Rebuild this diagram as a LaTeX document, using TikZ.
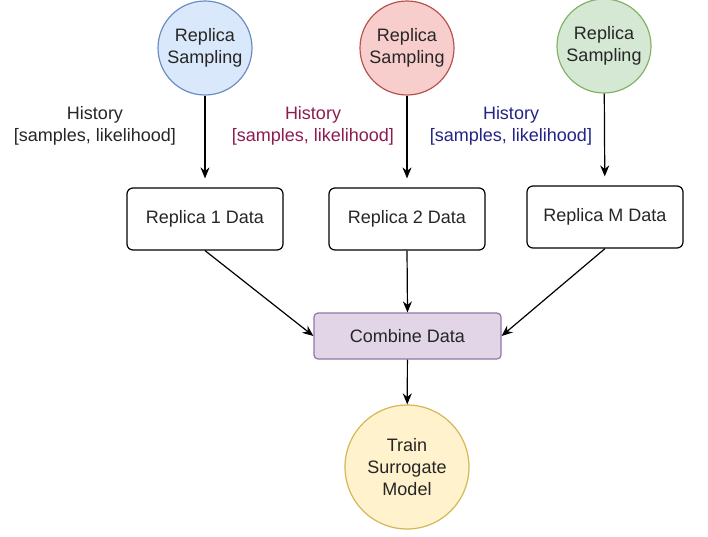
\documentclass[tikz,border=0pt]{standalone}
\usepackage{fontspec}
\setmainfont{Liberation Sans}
\usepackage{xcolor}
\usepackage{tikz}
\usetikzlibrary{shapes, arrows.meta, positioning, calc}

\definecolor{blueFill}{HTML}{DAE8FC}
\definecolor{blueLine}{HTML}{6C8EBF}
\definecolor{redFill}{HTML}{F8CECC}
\definecolor{redLine}{HTML}{B85450}
\definecolor{greenFill}{HTML}{D5E8D4}
\definecolor{greenLine}{HTML}{82B366}
\definecolor{purpleFill}{HTML}{E1D5E7}
\definecolor{purpleLine}{HTML}{9673A6}
\definecolor{yellowFill}{HTML}{FFF2CC}
\definecolor{yellowLine}{HTML}{D6B656}
\definecolor{histRed}{HTML}{8C1C50}
\definecolor{histBlue}{HTML}{222288}

\begin{document}
\begin{tikzpicture}[x=1pt, y=-1pt,
    every node/.style={font=\fontsize{18}{22}\selectfont, text=black!85},
    sampler/.style={circle, draw, line width=1.2pt, minimum size=94pt, inner sep=0pt, align=center},
    databox/.style={rectangle, rounded corners=6pt, draw=black, line width=1.2pt, minimum width=156pt, minimum height=62pt},
    history/.style={align=center},
    flow/.style={-{Stealth[length=11pt, width=9pt]}, line width=1.2pt}]
    % Bounding box
    \useasboundingbox (0,0) rectangle (708,536);

    % Replica samplers
    \node[sampler, fill=blueFill, draw=blueLine] (s1) at (205,48) {Replica\\Sampling};
    \node[sampler, fill=redFill, draw=redLine] (s2) at (407,48) {Replica\\Sampling};
    \node[sampler, fill=greenFill, draw=greenLine] (sM) at (604,46) {Replica\\Sampling};

    % Replica data
    \node[databox] (d1) at (205,219) {Replica 1 Data};
    \node[databox] (d2) at (407,219) {Replica 2 Data};
    \node[databox] (dM) at (605,217) {Replica M Data};

    % Combine and train
    \node[databox, fill=purpleFill, draw=purpleLine, rounded corners=4pt, minimum width=187pt, minimum height=46pt] (comb) at (407.5,336) {Combine Data};
    \node[sampler, fill=yellowFill, draw=yellowLine, minimum size=124pt] (train) at (407,467) {Train\\Surrogate\\Model};

    % History labels
    \node[history] (h1) at (95,126) {History\\{}[samples, likelihood]};
    \node[history, text=histRed] (h2) at (313,126) {History\\{}[samples, likelihood]};
    \node[history, text=histBlue] (hM) at (511,126) {History\\{}[samples, likelihood]};

    % Arrows
    \draw[flow, shorten >=9pt] (s1) -- (d1);
    \draw[flow, shorten >=9pt] (s2) -- (d2);
    \draw[flow, shorten >=9pt] (sM) -- (dM);
    \draw[flow] (d1.south) -- (comb.west);
    \draw[flow] (d2.south) -- (comb.north);
    \draw[flow] (dM.south) -- (comb.east);
    \draw[flow] (comb) -- (train);
\end{tikzpicture}
\end{document}
